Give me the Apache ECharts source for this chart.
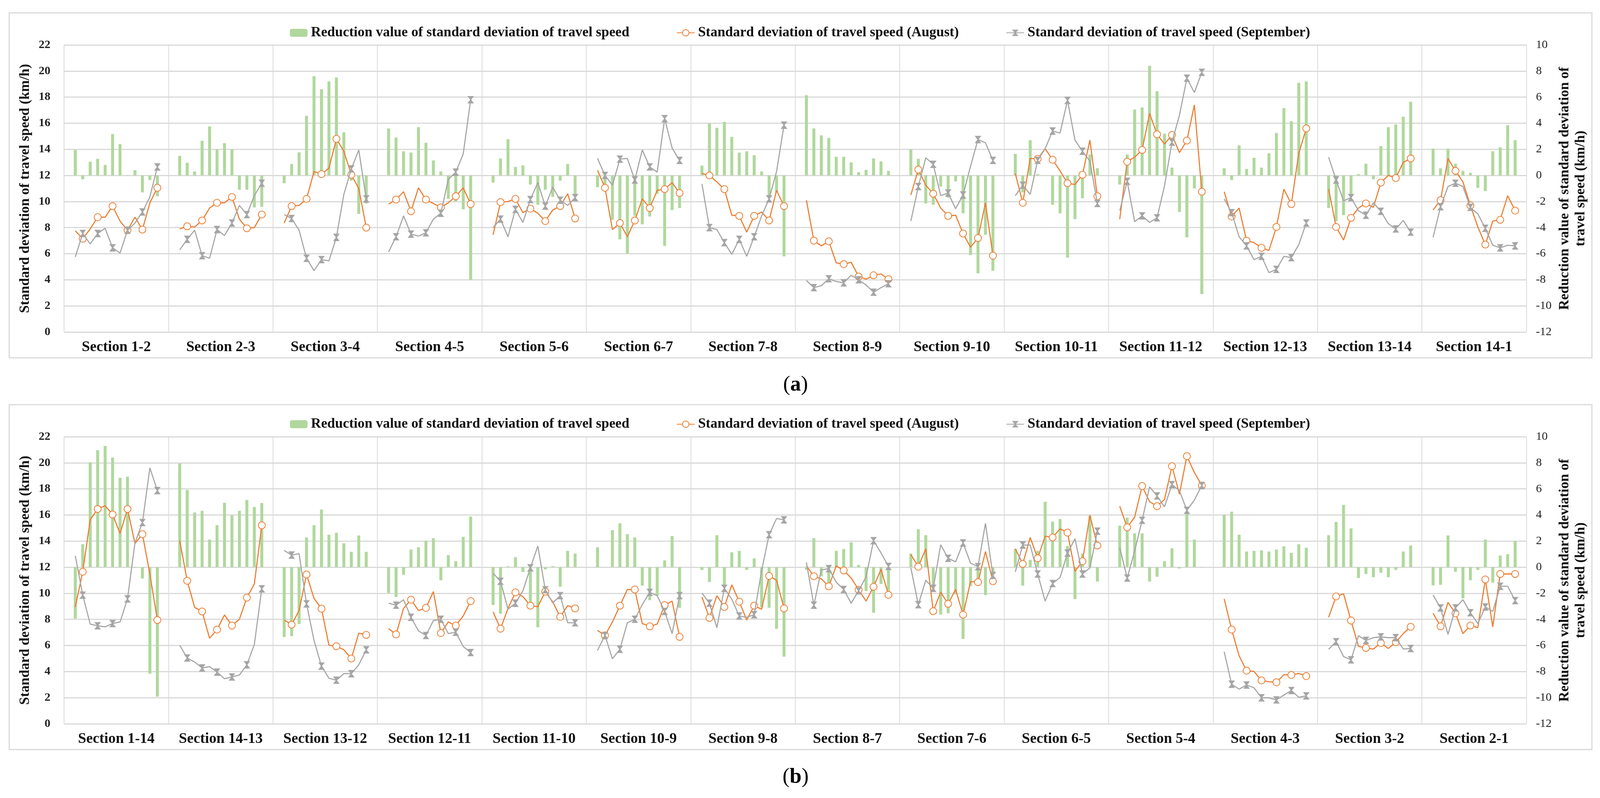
<!DOCTYPE html>
<html><head><meta charset="utf-8">
<script src="https://cdn.jsdelivr.net/npm/echarts/dist/echarts.min.js"></script>
<style>html,body{margin:0;padding:0;background:#fff;overflow:hidden}#c{width:100vw;height:100vh}</style>
</head><body><div id="c"></div>
<script>
// ---------------- DATA ----------------
const sectionsA = ['Section 1-2','Section 2-3','Section 3-4','Section 4-5','Section 5-6','Section 6-7','Section 7-8','Section 8-9','Section 9-10','Section 10-11','Section 11-12','Section 12-13','Section 13-14','Section 14-1'];
const sectionsB = ['Section 1-14','Section 14-13','Section 13-12','Section 12-11','Section 11-10','Section 10-9','Section 9-8','Section 8-7','Section 7-6','Section 6-5','Section 5-4','Section 4-3','Section 3-2','Section 2-1'];

// Panel (a): 12 values per section, 14 sections
const augA = [
 7.75,7.15,7.9,8.8,8.8,9.65,8.5,7.8,8.8,7.85,9.9,11.05,
 7.9,8.1,8.05,8.55,9.5,9.9,9.9,10.35,8.65,7.95,8.0,9.0,
 8.35,9.65,9.7,10.2,12.3,12.1,12.55,14.8,13.85,12.05,11.0,8.0,
 9.8,10.15,10.75,9.25,11.05,10.15,9.85,9.55,9.9,10.4,11.05,9.8,
 7.45,9.95,10.0,10.2,9.15,9.45,9.1,8.5,9.35,9.65,10.6,8.7,
 12.4,11.05,7.85,8.35,7.3,8.55,10.2,9.5,10.85,10.95,11.45,10.65,
 12.15,12.0,11.5,10.95,8.95,8.9,7.65,8.9,9.2,8.55,10.85,9.65,
 10.1,7.0,6.6,6.95,5.3,5.2,5.35,4.25,4.05,4.35,4.45,4.05,
 10.5,12.45,11.25,10.6,9.5,8.9,8.95,7.55,6.5,7.2,9.9,5.85,
 12.15,9.9,13.3,13.27,14.05,13.2,12.35,11.4,11.3,12.05,14.7,10.4,
 8.65,13.05,13.4,13.95,16.75,15.15,14.4,15.1,13.75,14.67,17.4,10.75,
 10.75,8.85,9.5,7.0,6.85,6.45,6.25,8.05,10.95,9.8,13.7,15.6,
 10.95,8.05,7.05,8.75,9.5,9.85,9.55,11.45,12.0,11.8,13.0,13.3,
 9.35,10.1,13.3,12.35,11.5,9.7,8.05,6.7,8.5,8.6,10.45,9.3
];
const sepA = [
 5.75,7.55,6.75,7.55,7.95,6.45,6.05,7.8,8.35,9.2,10.35,12.65,
 6.3,7.1,7.8,5.85,5.65,7.85,7.4,8.35,9.7,9.0,10.45,11.4,
 9.0,8.7,7.8,5.65,4.7,5.55,5.45,7.25,10.55,12.5,13.95,10.2,
 6.15,7.3,8.9,7.5,7.35,7.6,8.65,9.1,11.7,12.25,13.65,17.8,
 8.0,8.65,7.3,9.4,8.4,10.15,11.45,9.65,11.1,10.1,9.7,10.3,
 13.3,12.0,11.25,13.25,13.3,11.65,13.95,12.65,12.25,16.35,14.1,13.15,
 11.35,8.0,7.85,6.85,5.95,7.1,5.8,7.3,8.9,10.2,12.3,15.85,
 3.95,3.4,3.55,4.08,3.87,3.77,4.35,4.0,3.6,3.05,3.4,3.7,
 8.5,11.15,13.35,12.85,10.45,10.65,9.45,10.5,12.7,14.75,14.5,13.15,
 10.45,11.25,10.55,13.15,14.05,15.4,15.25,17.75,14.7,13.85,13.1,9.85,
 9.3,11.55,8.45,8.9,8.4,8.75,11.2,14.55,16.6,19.45,18.35,19.9,
 10.2,9.15,7.3,6.6,5.55,5.8,4.55,4.8,5.8,5.7,6.7,8.35,
 13.4,11.65,10.05,10.3,9.3,8.95,9.9,9.25,8.3,7.9,8.55,7.65,
 7.25,9.6,11.15,11.4,11.15,9.55,9.05,7.95,6.65,6.45,6.65,6.6
];
const redA = [
 1.95,-0.3,1.05,1.27,0.8,3.17,2.4,0.02,0.4,-1.3,-0.35,-1.6,
 1.5,0.97,0.3,2.65,3.75,2.0,2.47,2.0,-1.1,-1.1,-2.45,-2.4,
 -0.6,0.87,1.77,4.57,7.6,6.6,7.2,7.5,3.3,-0.4,-2.95,-2.15,
 3.6,2.9,1.85,1.75,3.7,2.5,1.15,0.3,-1.8,-2.0,-2.6,-8.0,
 -0.55,1.3,2.77,0.65,0.77,-0.7,-2.25,-1.1,-1.65,-0.4,0.87,-1.65,
 -0.9,-0.95,-3.4,-4.9,-6.0,-3.1,-3.75,-3.15,-1.4,-5.4,-2.65,-2.5,
 0.75,4.0,3.65,4.1,2.95,1.75,1.85,1.55,0.3,-1.65,-1.3,-6.2,
 6.15,3.6,3.07,2.87,1.43,1.43,1.0,0.25,0.43,1.3,1.07,0.35,
 2.0,1.27,-2.15,-2.25,-0.85,-1.7,-0.45,-2.9,-6.1,-7.5,-4.55,-7.3,
 1.65,-1.3,2.7,0.1,0.02,-2.25,-2.9,-6.3,-3.35,-1.75,1.6,0.55,
 -0.7,1.6,5.05,5.2,8.4,6.45,3.2,0.6,-2.8,-4.75,-1.0,-9.1,
 0.55,-0.35,2.3,0.5,1.35,0.6,1.7,3.25,5.15,4.15,7.1,7.2,
 -2.5,-3.5,-3.05,-1.55,0.1,0.9,-0.3,2.25,3.7,3.9,4.5,5.65,
 2.05,0.55,2.05,0.9,0.35,0.2,-0.95,-1.2,1.85,2.15,3.85,2.7
];

// Panel (b)
const augB = [
 8.95,11.65,15.63,16.46,16.71,16.04,14.59,16.46,13.82,14.53,11.48,7.95,
 14.03,10.96,8.92,8.61,6.56,7.22,8.34,7.53,8.01,9.67,10.71,15.21,
 7.95,7.6,8.68,11.44,9.61,8.82,6.02,5.94,5.67,5.0,6.95,6.81,
 7.29,6.85,8.84,9.51,8.68,8.88,10.13,6.95,7.8,7.53,8.26,9.4,
 8.57,7.29,8.84,10.07,9.75,9.05,8.97,10.13,9.34,8.2,9.05,8.84,
 7.16,6.77,7.8,9.05,10.29,10.29,7.68,7.47,7.64,9.09,9.4,6.66,
 9.71,8.12,9.82,8.95,10.65,9.36,7.95,9.05,8.78,11.33,11.0,8.84,
 12.1,11.31,11.1,10.54,12.1,11.75,11.17,10.27,9.4,10.5,11.83,9.88,
 12.97,12.04,13.41,8.63,10.09,9.19,10.29,8.36,10.9,10.85,13.2,10.92,
 13.41,12.25,14.28,12.68,14.38,14.28,14.94,14.65,11.68,12.45,15.98,13.66,
 16.67,15.05,15.84,18.22,17.02,16.67,17.19,19.74,17.6,20.51,19.26,18.26,
 9.57,7.22,5.21,4.07,4.01,3.32,3.22,3.18,3.76,3.74,3.86,3.65,
 8.16,9.76,9.96,7.91,5.94,5.81,5.73,6.19,5.77,6.25,6.91,7.43,
 8.47,7.47,9.3,8.47,6.91,7.53,7.37,11.06,7.43,11.48,11.48,11.48
];
const sepB = [
 12.87,9.86,7.64,7.51,7.43,7.68,7.8,9.57,13.86,15.42,19.61,17.87,
 6.02,5.04,4.73,4.28,4.38,3.96,3.45,3.59,3.74,4.52,6.08,10.34,
 13.28,12.93,13.03,9.19,6.39,4.42,3.49,3.34,3.84,3.84,4.52,5.67,
 9.24,9.09,9.51,8.16,7.12,6.77,7.91,8.01,6.91,7.02,5.92,5.46,
 11.54,10.92,8.78,9.24,10.19,11.95,13.62,10.27,9.26,9.82,7.74,7.74,
 5.62,6.77,4.98,5.71,7.74,8.01,9.13,10.07,9.82,8.61,6.91,9.82,
 10.02,9.24,7.37,10.38,9.55,8.26,8.16,8.36,11.75,14.49,15.73,15.63,
 12.37,9.09,11.79,11.89,10.85,10.29,9.24,10.19,11.27,14.03,13.1,12.06,
 11.95,9.13,11.0,10.38,13.72,12.68,12.41,13.86,12.31,12.04,15.36,11.37,
 11.64,13.7,13.7,11.48,9.4,10.75,11.21,13.08,14.18,11.48,11.95,14.76,
 13.49,11.17,13.24,15.59,18.16,17.46,16.63,18.33,17.87,16.36,17.14,18.26,
 5.52,3.03,2.66,2.97,2.76,1.99,1.99,1.83,2.2,2.55,2.03,2.14,
 5.71,6.29,5.15,4.9,6.75,6.39,6.6,6.66,6.6,6.6,5.73,5.77,
 9.86,8.88,6.85,8.88,9.51,8.51,7.68,8.95,8.61,10.54,10.54,9.44
];
const redB = [
 -3.94,1.76,8.03,8.97,9.3,8.4,6.85,6.93,-0.04,-0.87,-8.16,-9.92,
 7.95,5.92,4.19,4.32,2.12,3.22,4.94,3.98,4.32,5.15,4.61,4.92,
 -5.35,-5.29,-4.36,2.28,3.22,4.42,2.49,2.64,1.83,1.18,2.43,1.18,
 -1.97,-2.28,-0.58,1.35,1.52,2.03,2.22,-1.0,0.93,0.46,2.32,3.88,
 -2.9,-3.57,0.06,0.77,-0.37,-2.9,-4.6,-0.17,0.08,-1.49,1.25,1.04,
 1.52,0.02,2.84,3.36,2.53,2.28,-1.41,-2.53,-2.18,0.52,2.39,-3.11,
 -0.21,-1.14,2.45,-1.56,1.14,1.25,-0.21,0.68,-3.07,-3.11,-4.73,-6.85,
 -0.2,2.22,-0.69,-1.25,1.25,1.39,1.91,0.17,-1.83,-3.49,-1.29,-2.1,
 1.04,2.91,2.45,-1.66,-3.63,-3.53,-2.08,-5.5,-1.45,-1.19,-2.14,-0.42,
 1.4,-1.41,0.56,1.25,5.02,3.49,3.69,1.62,-2.45,1.04,3.94,-1.1,
 3.18,3.8,2.59,2.59,-1.1,-0.73,0.46,1.45,-0.1,4.25,2.12,0.02,
 4.01,4.25,2.49,1.2,1.25,1.29,1.2,1.35,1.6,1.1,1.76,1.49,
 2.45,3.47,4.77,2.97,-0.83,-0.52,-0.77,-0.42,-0.77,-0.21,1.2,1.66,
 -1.39,-1.35,2.43,-0.35,-2.39,-1.0,-0.21,2.12,-1.18,0.89,1.0,2.01
];

const leftMin = 0, leftMax = 22, rightMin = -12, rightMax = 10, tickStep = 2;
const NAME_RED = 'Reduction value of standard deviation of travel speed';
const NAME_AUG = 'Standard deviation of travel speed (August)';
const NAME_SEP = 'Standard deviation of travel speed (September)';

// ---------------- LAYOUT (design size 4344 x 2043, scaled to viewport) ----------------
const el = document.getElementById('c');
const vw = el.clientWidth || window.innerWidth || 4344;
const vh = el.clientHeight || window.innerHeight || 2043;
const sx = vw / 4344, sy = vh / 2043, sf = Math.min(sx, sy);
const X = v => v * sx, Y = v => v * sy, F = v => v * sf;

const PER = 12, NSEC = 14;
function expand(vals){
  const out = [];
  for (let s = 0; s < NSEC; s++) {
    out.push(null);
    for (let j = 0; j < PER; j++) out.push(vals[s*PER + j]);
    out.push(null);
  }
  return out;
}
const slotCats = Array.from({length: NSEC*(PER+2)}, (_, i) => 'p' + i);

const FONT = '"Liberation Serif", "Times New Roman", serif';
const GREEN = '#b0d89c', ORANGE = '#ed7d31', GREY = '#a5a5a5', GRID = '#d9d9d9';
const HOURGLASS = 'path://M0,0 L10,0 L5.8,5 L10,10 L0,10 L4.2,5 Z';

const panels = [
  {sections: sectionsA, aug: augA, sep: sepA, red: redA, top: 115, legendTop: 61},
  {sections: sectionsB, aug: augB, sep: sepB, red: redB, top: 1118, legendTop: 1063}
];

const grid = [], xAxis = [], yAxis = [], series = [], legend = [];
panels.forEach((p, g) => {
  grid.push({left: X(174), top: Y(p.top), width: X(3970), height: Y(735)});
  xAxis.push({gridIndex: g, type: 'category', data: slotCats, show: false});
  xAxis.push({
    gridIndex: g, type: 'category', data: p.sections, position: 'bottom',
    axisLine: {show: false}, axisTick: {show: false},
    axisLabel: {interval: 0, margin: Y(20), fontSize: F(40), fontWeight: 'bold', fontFamily: FONT, color: '#111'},
    splitLine: {show: true, interval: 0, lineStyle: {color: GRID, width: F(2)}}
  });
  yAxis.push({
    gridIndex: g, type: 'value', min: leftMin, max: leftMax, interval: tickStep, position: 'left',
    name: 'Standard deviation of travel speed (km/h)', nameLocation: 'middle', nameRotate: 90, nameGap: X(86),
    nameTextStyle: {fontSize: F(38), fontWeight: 'bold', fontFamily: FONT, color: '#111'},
    axisLine: {show: false}, axisTick: {show: false},
    axisLabel: {fontSize: F(32), fontWeight: 'bold', fontFamily: FONT, color: '#222', margin: X(37)},
    splitLine: {show: true, lineStyle: {color: GRID, width: F(3)}}
  });
  yAxis.push({
    gridIndex: g, type: 'value', min: rightMin, max: rightMax, interval: tickStep, position: 'right',
    name: 'Reduction value of standard deviation of\ntravel speed (km/h)', nameLocation: 'middle', nameRotate: 90, nameGap: X(82),
    nameTextStyle: {fontSize: F(38), fontWeight: 'bold', fontFamily: FONT, color: '#111', lineHeight: F(44)},
    axisLine: {show: false}, axisTick: {show: false},
    axisLabel: {fontSize: F(32), fontFamily: FONT, color: '#222', margin: X(26)},
    splitLine: {show: false}
  });
  const xi = g*2, yl = g*2, yr = g*2 + 1;
  series.push({
    type: 'bar', name: NAME_RED, xAxisIndex: xi, yAxisIndex: yr, data: expand(p.red),
    barWidth: X(8), itemStyle: {color: GREEN}, z: 1
  });
  series.push({
    type: 'line', name: NAME_AUG, xAxisIndex: xi, yAxisIndex: yl, data: expand(p.aug),
    symbol: 'emptyCircle', symbolSize: F(19), connectNulls: false,
    lineStyle: {color: ORANGE, width: F(3)}, itemStyle: {color: ORANGE, borderColor: ORANGE, borderWidth: F(4.5)}, z: 3
  });
  series.push({
    type: 'line', name: NAME_SEP, xAxisIndex: xi, yAxisIndex: yl, data: expand(p.sep),
    symbol: HOURGLASS, symbolSize: [F(18), F(20)], connectNulls: false,
    lineStyle: {color: GREY, width: F(3)}, itemStyle: {color: GREY}, z: 4
  });
  legend.push({
    top: Y(p.legendTop), left: 'center', data: [NAME_RED, NAME_AUG, NAME_SEP],
    itemWidth: F(48), itemHeight: F(22), itemGap: F(128), selectedMode: false,
    textStyle: {fontSize: F(38), fontWeight: 'bold', fontFamily: FONT, color: '#111', padding: [0, 0, 0, F(4)]}
  });
});

const boxStyle = {fill: null, stroke: GRID, lineWidth: F(3)};
const labelRich = {p: {fontSize: F(58), fontFamily: FONT, fill: '#000'}, l: {fontSize: F(58), fontWeight: 'bold', fontFamily: FONT, fill: '#000'}};
const graphic = [
  {type: 'rect', shape: {x: X(25), y: Y(33), width: X(4297), height: Y(883)}, style: boxStyle, silent: true, z: -10},
  {type: 'rect', shape: {x: X(25), y: Y(1036), width: X(4297), height: Y(883)}, style: boxStyle, silent: true, z: -10},
  {type: 'text', x: X(2160), y: Y(986), style: {text: '{p|(}{l|a}{p|)}', align: 'center', verticalAlign: 'middle', rich: labelRich}},
  {type: 'text', x: X(2160), y: Y(1990), style: {text: '{p|(}{l|b}{p|)}', align: 'center', verticalAlign: 'middle', rich: labelRich}}
];

const chart = echarts.init(el, null, {renderer: 'canvas'});
chart.setOption({
  backgroundColor: '#fff',
  animation: false,
  textStyle: {fontFamily: FONT},
  grid, xAxis, yAxis, series, legend, graphic
});
</script></body></html>
